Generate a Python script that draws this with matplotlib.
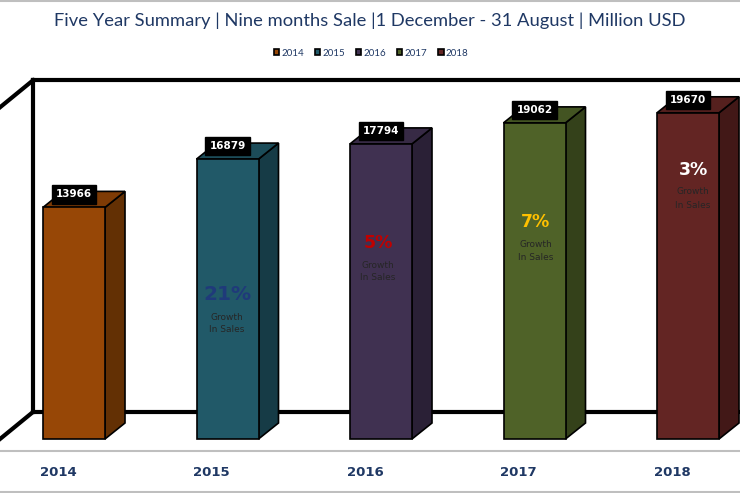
import matplotlib
matplotlib.use("Agg")
import matplotlib.pyplot as plt
from matplotlib.patches import Polygon, Patch

# ---- data ----
years = ["2014", "2015", "2016", "2017", "2018"]
sales = [13966, 16879, 17794, 19062, 19670]
front_colors = ["#974706", "#215968", "#403151", "#4F6228", "#632523"]
side_colors = ["#633004", "#163B46", "#2A2036", "#34411A", "#421817"]
top_colors = ["#7E3B05", "#1C4C59", "#372A45", "#435422", "#55201E"]
pct_colors = [None, "#1F3A7A", "#C00000", "#FFC000", "#FFFFFF"]
title = "Five Year Summary | Nine months Sale |1 December - 31 August | Million USD"

NAVY = "#1F3864"
FONT = ["Lato", "DejaVu Sans"]

W, H = 740, 493
fig = plt.figure(figsize=(W / 100, H / 100), dpi=100)
ax = fig.add_axes([0, 0, 1, 1])

# pixel-to-data scale
PX_X = 153.5          # px per category
PX_V = 60.3           # value units per px
BASE_PX = 439         # pixel row of value 0
CX0 = 74              # pixel col of first bar centre
ax.set_xlim((0 - CX0) / PX_X, (W - CX0) / PX_X)
ax.set_ylim(-(H - BASE_PX) * PX_V, BASE_PX * PX_V)
ax.axis("off")

bw = 62 / PX_X
DX, DY = 20 / PX_X, 16 * PX_V          # bar depth
WDX, WDY = 33 / PX_X, 27 * PX_V        # wall depth
slope = WDY / WDX
ymax = 20000
x_left = (0 - CX0) / PX_X
x_right = (W - CX0) / PX_X

# back wall / floor lines
wx = x_left + WDX
ax.plot([wx, wx], [WDY, ymax + WDY], color="black", lw=3, solid_capstyle="projecting", zorder=1)
ax.plot([wx, x_right], [ymax + WDY, ymax + WDY], color="black", lw=3, solid_capstyle="projecting", zorder=1)
ax.plot([wx, x_right], [WDY, WDY], color="black", lw=3, solid_capstyle="projecting", zorder=1)
ax.plot([x_left - 0.02, wx], [ymax - 0.02 * slope, ymax + WDY], color="black", lw=3, zorder=1)
ax.plot([x_left - 0.02, wx], [-0.02 * slope, WDY], color="black", lw=3, zorder=1)

# bars (3D look)
xs = list(range(len(years)))
ax.bar(xs, sales, width=bw, color=front_colors, edgecolor="black", linewidth=1.2, zorder=3)
for i, v in enumerate(sales):
    x0, x1 = i - bw / 2, i + bw / 2
    side = Polygon([(x1, 0), (x1 + DX, DY), (x1 + DX, v + DY), (x1, v)],
                   closed=True, facecolor=side_colors[i], edgecolor="black", lw=1.2, zorder=2.9)
    top = Polygon([(x0, v), (x0 + DX, v + DY), (x1 + DX, v + DY), (x1, v)],
                  closed=True, facecolor=top_colors[i], edgecolor="black", lw=1.2, zorder=2.9)
    ax.add_patch(side)
    ax.add_patch(top)
    # data label
    ax.text(i, v + 13 * PX_V, f"{v}", ha="center", va="center", color="white",
            fontsize=7.5, fontweight="bold", family=["DejaVu Sans"], zorder=5,
            bbox=dict(boxstyle="square,pad=0.4", facecolor="black", edgecolor="black"))
    # year label
    ax.text(i - 16 / PX_X, -(473 - BASE_PX) * PX_V, years[i], ha="center", va="center",
            color=NAVY, fontsize=9.5, fontweight="bold", family=["DejaVu Sans"])

# growth annotations
pct_px = [None, (227, 295), (378, 243), (536, 222), (693, 170)]
pct_sizes = [None, 14.5, 12.5, 12.5, 12.5]
for i in range(1, len(sales)):
    g = round((sales[i] - sales[i - 1]) / sales[i - 1] * 100)
    px, py = pct_px[i]
    xx = (px - CX0) / PX_X
    yy = (BASE_PX - py) * PX_V
    ax.text(xx, yy, f"{g}%", ha="center", va="center", color=pct_colors[i],
            fontsize=pct_sizes[i], fontweight="bold", family=["DejaVu Sans"], zorder=6)
    ax.text(xx, yy - 22 * PX_V, "Growth", ha="center", va="center", color="#262626",
            fontsize=6.5, family=["DejaVu Sans"], zorder=6)
    ax.text(xx, yy - 35 * PX_V, "In Sales", ha="center", va="center", color="#262626",
            fontsize=6.5, family=["DejaVu Sans"], zorder=6)

# gray separator lines
for py in (1, 451, 492):
    ax.plot([x_left, x_right], [(BASE_PX - py) * PX_V] * 2, color="#BFBFBF", lw=1.5, zorder=0)

# title
fig.text(0.5, 1 - 21 / H, title, ha="center", va="center", color=NAVY,
         fontsize=13.2, family=FONT)

# legend
handles = [Patch(facecolor=c, edgecolor="black", linewidth=1.2) for c in front_colors]
leg = fig.legend(handles, years, loc="center", bbox_to_anchor=(371 / W, 1 - 53 / H),
                 ncol=5, frameon=False, handlelength=0.55, handleheight=0.55,
                 handletextpad=0.2, columnspacing=1.15, prop={"family": FONT, "size": 7})
for t in leg.get_texts():
    t.set_color(NAVY)

fig.savefig("out.png", dpi=100)
